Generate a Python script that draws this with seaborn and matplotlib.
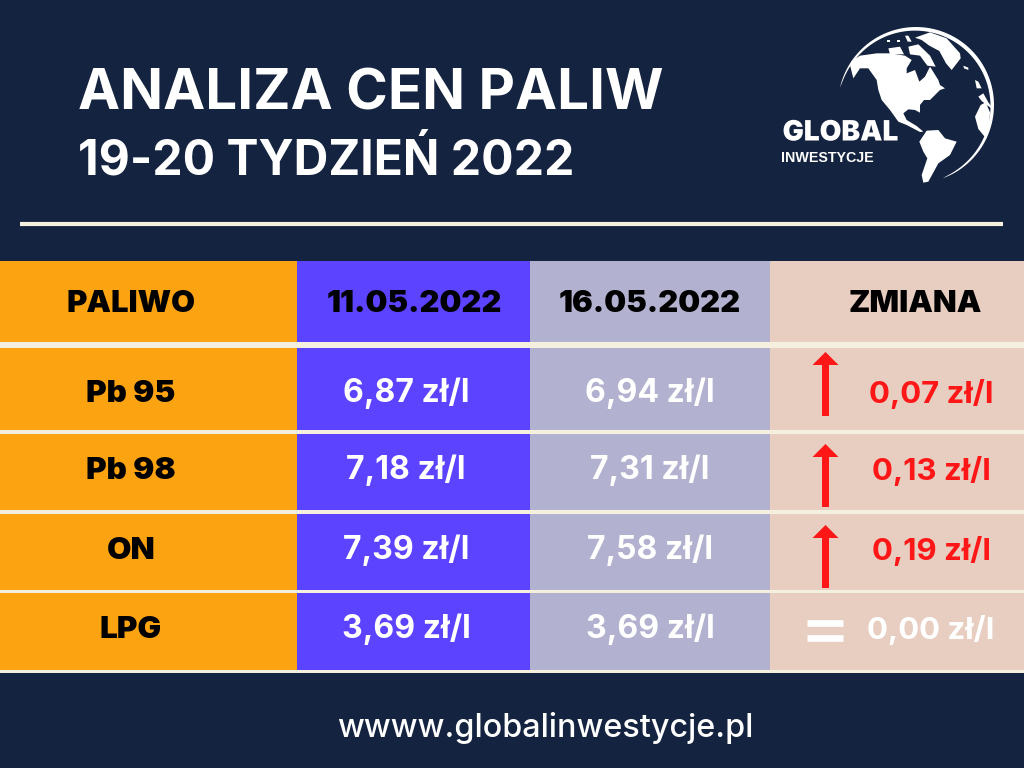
#!/usr/bin/env python3
import matplotlib
matplotlib.use('Agg')
import matplotlib.pyplot as plt
import matplotlib.patheffects as pe
from matplotlib.colors import ListedColormap
from matplotlib.patches import Polygon
import numpy as np
import seaborn as sns

# chart values
title = 'ANALIZA CEN PALIW'
subtitle = '19-20 TYDZIEŃ 2022'
headers = ['PALIWO', '11.05.2022', '16.05.2022', 'ZMIANA']
fuels = ['Pb 95', 'Pb 98', 'ON', 'LPG']
prices_old = [6.87, 7.18, 7.39, 3.69]
prices_new = [6.94, 7.31, 7.58, 3.69]
changes = [0.07, 0.13, 0.19, 0.00]
website = 'wwww.globalinwestycje.pl'

# layout, in pixels of the 1024x768 picture
col_widths = [297, 233, 240, 254]
row_heights = [261, 81, 6, 82, 4, 76, 4, 76, 3, 77, 3, 95]
row_kinds = ['bg', 'cell', 'line', 'cell', 'line', 'cell', 'line', 'cell', 'line', 'cell', 'line', 'bg']
row_centers = [391, 468, 548, 627]
header_y = 302
col_centers = [131, 414, 650, 915]
price_centers = [406, 650]
change_center = 931
arrow_tips = [352, 444, 525]
arrow_bases = [416, 507, 588]

NAVY = '#14233F'
ORANGE = '#FCA311'
PURPLE = '#5C43FF'
LILAC = '#B2B1CF'
PINK = '#E8CDC1'
CREAM = '#F5EFE0'
RED = '#FF1616'

HEAD_FONT = ['Inter', 'DejaVu Sans']

land_shapes = [
    # north america
    [(35,108),(60,92),(110,85),(150,85),(195,92),(215,105),(200,130),(200,145),(225,135),(238,170),
     (255,155),(270,125),(295,165),(300,180),(315,190),(300,195),(270,225),(252,225),(240,240),
     (240,263),(225,255),(205,253),(190,265),(200,285),(230,303),(250,320),(240,321),(200,300),
     (175,290),(150,255),(125,225),(115,195),(110,165),(85,130),(60,130),(40,160),(30,120)],
    # south america
    [(238,350),(260,317),(295,315),(315,340),(350,350),(330,390),(295,415),(265,470),(250,473),
     (245,450),(262,400),(250,380)],
    # greenland, joined to the rim
    [(225,38),(270,22),(320,40),(360,85),(362,100),(335,135),(318,115),(298,78),(268,62),(245,45)],
    # arctic islands
    [(145,70),(180,65),(192,88),(150,88)],
    [(205,65),(235,58),(270,92),(287,125),(262,122),(240,92),(210,88)],
    [(142,46),(150,46),(150,52),(142,52)],
    [(170,44),(180,44),(180,52),(170,52)],
    [(195,32),(205,32),(215,50),(203,50)],
    # iceland, britain, europe
    [(370,122),(385,128),(385,135),(372,130)],
    [(405,165),(415,170),(425,190),(410,190)],
    [(415,215),(430,205),(445,232),(462,255),(440,240),(425,228)],
    # africa
    [(422,240),(437,232),(450,262),(448,300),(438,340),(415,312),(405,275)],
]


def zl(value):
    return f'{value:.2f}'.replace('.', ',') + ' zł/l'


def tableMatrix():
    # colour index per pixel: 0 navy, 1 cream, 2..5 the columns
    rows = []
    for kind in row_kinds:
        if kind == 'bg':
            rows.append([0, 0, 0, 0])
        elif kind == 'line':
            rows.append([1, 1, 1, 1])
        else:
            rows.append([2, 3, 4, 5])
    matrix = np.repeat(np.array(rows), row_heights, axis=0)
    return np.repeat(matrix, col_widths, axis=1)


def drawGlobe(ax):
    for shape in land_shapes:
        pts = [(840 + x / 3, 25 + y / 3) for x, y in shape]
        ax.add_patch(Polygon(pts, closed=True, fc='white', ec='none'))

    # crescent edge of the globe, thin at both ends
    u = np.linspace(0, 1, 90)
    t = np.radians(-167 + u * 237)
    inner_r = 78 - 4 * np.sin(np.pi * u) ** 0.6
    outer_x, outer_y = 916 + 78 * np.cos(t), 105 + 78 * np.sin(t)
    inner_x, inner_y = 916 + inner_r * np.cos(t), 105 + inner_r * np.sin(t)
    ax.fill(np.r_[outer_x, inner_x[::-1]], np.r_[outer_y, inner_y[::-1]], color='white', lw=0)

    ax.text(840.5, 133, 'GLOBAL', color='white', fontsize=20.2, fontweight='black', ha='center', va='center',
            path_effects=[pe.withStroke(linewidth=2.5, foreground=NAVY)])
    ax.text(827.5, 158.5, 'INWESTYCJE', color='white', fontsize=10.3, fontweight='bold', ha='center', va='center',
            family=['Liberation Sans'])


def createPlot():
    sns.set_theme(style='white')
    plt.rcParams['font.family'] = HEAD_FONT

    fig = plt.figure(figsize=(10.24, 7.68), dpi=100)
    ax = fig.add_axes([0, 0, 1, 1])
    cmap = ListedColormap([NAVY, CREAM, ORANGE, PURPLE, LILAC, PINK])
    sns.heatmap(tableMatrix(), ax=ax, cmap=cmap, vmin=-0.5, vmax=5.5, cbar=False,
                xticklabels=False, yticklabels=False, rasterized=True)
    ax.axis('off')

    ax.text(78, 95, title, color='white', fontsize=40.6, fontweight='bold', va='center')
    ax.text(78, 161, subtitle, color='white', fontsize=34.6, fontweight='bold', va='center')
    ax.plot([20, 1003], [224, 224], color=CREAM, lw=3, solid_capstyle='butt')

    drawGlobe(ax)

    for name, x in zip(headers, col_centers):
        ax.text(x, header_y + 2, name, color='black', fontsize=22.3, fontweight='black', ha='center', va='center')

    for i, y in enumerate(row_centers):
        ax.text(col_centers[0], y + 3, fuels[i], color='black', fontsize=22.6, fontweight='black',
                ha='center', va='center')
        ax.text(price_centers[0], y + 2, zl(prices_old[i]), color='white', fontsize=23, fontweight='bold',
                ha='center', va='center')
        ax.text(price_centers[1], y + 2, zl(prices_new[i]), color='white', fontsize=23, fontweight='bold',
                ha='center', va='center')
        color = RED if changes[i] > 0 else 'white'
        ax.text(change_center, y + 3, zl(changes[i]), color=color, fontsize=22.4, fontweight='bold',
                ha='center', va='center')

    # arrows for the rises, an equals sign when nothing changed
    rises = [i for i, c in enumerate(changes) if c > 0]
    for i, tip, base in zip(rises, arrow_tips, arrow_bases):
        ax.arrow(825.5, base, 0, tip - base, width=7, head_width=26, head_length=13,
                 length_includes_head=True, color=RED, lw=0)
    for i, c in enumerate(changes):
        if c == 0:
            for off in (-7.5, 8):
                ax.plot([807, 843], [row_centers[i] + off + 3, row_centers[i] + off + 3], color='white',
                        lw=4.8, solid_capstyle='butt')

    ax.text(545, 728, website, color='white', fontsize=23.3, fontweight='medium', ha='center', va='center')

    fig.savefig('out.png', dpi=100)
    plt.close(fig)


if __name__ == '__main__':
    createPlot()
